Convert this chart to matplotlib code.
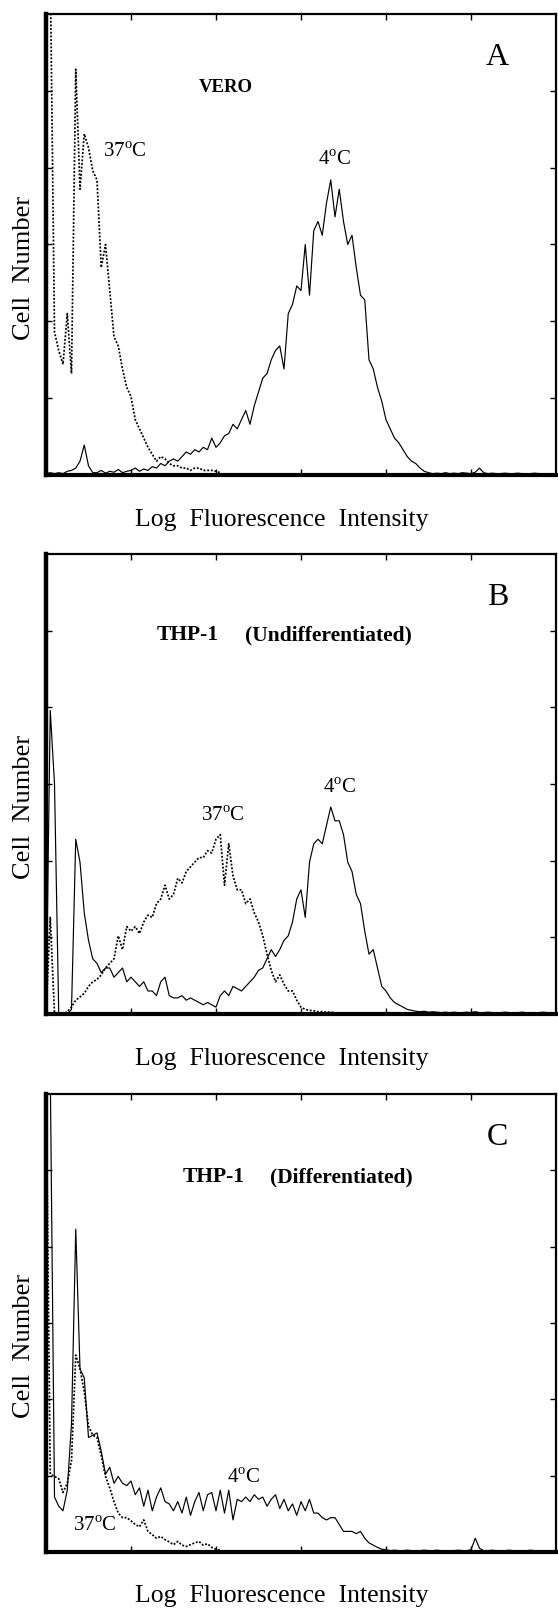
import matplotlib
matplotlib.use("Agg")
import matplotlib.pyplot as plt
import numpy as np

plt.rcParams['font.family'] = ['Liberation Serif', 'DejaVu Serif']
plt.rcParams['mathtext.fontset'] = 'custom'
plt.rcParams['mathtext.rm'] = 'Liberation Serif'

# histogram counts, % of axis height, one value per channel (120 channels across)
A_4C = [0.3, 0.5, 0.3, 0.5, 0.3, 0.8, 1.0, 1.5,
        3, 6.5, 2, 0.5,
        0.5, 1.0, 0.4, 0.8, 0.6, 1.2, 0.5, 0.8, 1.0, 1.5, 0.8, 1.3, 1.0, 1.8,
        1.5, 2.5, 2, 3, 3.5, 3, 4, 5, 4.5, 5.5, 5, 6, 5.5, 8, 6, 7,
        8.5, 9, 11, 10, 12, 14, 11, 15, 18, 21, 22, 25, 27, 28, 23, 35,
        37, 41, 40, 50, 39, 53, 55, 52, 59, 64, 56, 62, 55, 50, 52, 45,
        39, 38, 25, 23, 19, 16, 12, 10, 8, 7, 5.5, 4, 3, 2.5, 1.5, 0.8,
        0.5, 0.3, 0.4, 0.3, 0.5, 0.3, 0.4, 0.3, 0.5, 0.4, 0.3, 0.6, 1.5, 0.5, 0.3,
        0.4, 0.3, 0.3, 0.4, 0.3, 0.3, 0.4, 0.3, 0.3, 0.3, 0.4, 0.3, 0.3, 0.3, 0.3]
A_37C = [110, 110, 31, 27, 24, 35, 22, 88, 62, 74, 71, 66, 64, 45, 50, 40,
         30, 28, 23, 19, 17, 12, 10, 8, 6, 4.5, 3, 4, 3.5, 2.5, 2, 2,
         1.5, 1.5, 1, 1.5, 1.5, 1, 1, 1, 0.8, 0.5]

B_4C = [0, 66, 50, 0, 0, 0, 1, 38, 33, 22, 16, 12, 11, 9, 10, 10,
        8, 9, 10, 7, 8, 7, 6, 7, 5, 5, 4, 7, 8, 4, 3.5, 3.5,
        4, 3, 3.5, 3, 2.5, 2, 2.5, 2, 1.5, 4, 5, 4, 6, 5.5, 5, 6,
        7, 8, 9.5, 10, 12, 14, 12.5, 14, 16, 17, 20, 25, 27, 21, 33, 37,
        38, 37, 41, 45, 42, 42, 39, 33, 31, 26, 24, 18, 13, 14, 10, 6,
        5, 3.5, 2.5, 2, 1.5, 1, 0.8, 0.6, 0.5, 0.6, 0.4, 0.5, 0.4, 0.3, 0.4, 0.3,
        0.4, 0.3, 0.3, 0.4, 0.3, 0.5, 0.3, 0.3, 0.4, 0.3, 0.3, 0.3,
        0.4, 0.3, 0.3, 0.3, 0.4, 0.3, 0.3, 0.3, 0.3, 0.4, 0.3, 0.3]
B_37C = [0, 21, 0, 0, 0, 0.5, 1.5, 3, 3.7, 4.5, 6, 7, 7.5, 8.5, 10, 11,
         12, 17, 14, 19, 18, 19, 17.5, 20, 21.5, 21, 24, 25, 28, 25, 26, 29.5,
         28.5, 31, 32, 33, 34, 34, 35.5, 35, 38, 39, 28, 37, 30, 27, 27, 24,
         25, 22, 20, 17, 13, 9.5, 7, 8.5, 6.5, 5, 5, 3, 1.5, 1, 0.8, 0.7,
         0.5, 0.5, 0.4, 0.4, 0.3]

C_4C = [105, 105, 12, 10, 9, 13.5, 28, 70.5, 40, 38, 25, 25.5, 26, 22, 17, 18.5,
        15, 16.5, 15, 14.5, 15.5, 12.5, 14, 10, 13.5, 9, 12, 14, 11, 10.5, 9, 11,
        8.5, 12, 8, 11, 13, 9, 12.5, 13, 9, 13.5, 8.5, 13.5, 7, 11.5, 11, 12,
        11, 12.5, 11.5, 12, 10, 11.5, 12.5, 9.5, 11.5, 9, 10.5, 8, 11, 9, 11.5, 8.5,
        8.5, 7.5, 7, 7.5, 7.5, 6, 4.5, 4.5, 4.5, 4, 4.5, 3, 2, 1.5, 1, 0.6,
        0.5, 0.3, 0.4, 0.3, 0.3, 0.4, 0.3, 0.3, 0.3, 0.4, 0.3, 0.3, 0.4, 0.3, 0.3, 0.3,
        0.3, 0.4, 0.3, 0.3, 0.5, 3, 0.8, 0.3, 0.3, 0.4, 0.3, 0.3,
        0.3, 0.4, 0.3, 0.3, 0.3, 0.3, 0.4, 0.3, 0.3, 0.3, 0.3, 0.3]
C_37C = [105, 17, 16.5, 16, 13, 15, 20, 43, 40, 35, 27.5, 25.5, 25, 21, 16.5, 14,
         11, 8.5, 7.5, 7.5, 6.8, 6, 5.5, 7, 4.5, 3.8, 3, 3.4, 2.7, 2.2, 1.6, 2.3,
         1.5, 1.2, 1.6, 2, 2.3, 1.5, 1.8, 1, 0.6, 0.4]

N_CHANNELS = 120
DEG = '$^{\\mathrm{o}}$'

panels = [
    dict(letter='A', solid=A_4C, dotted=A_37C,
         titles=[('VERO', 0.300, 0.84, 13.5)],
         t37=(0.112, 0.700, 'left'), t4=(0.566, 0.682)),
    dict(letter='B', solid=B_4C, dotted=B_37C,
         titles=[('THP-1', 0.216, 0.823, 15.5), ('(Undifferentiated)', 0.391, 0.823, 15.5)],
         t37=(0.346, 0.430, 'center'), t4=(0.575, 0.491)),
    dict(letter='C', solid=C_4C, dotted=C_37C,
         titles=[('THP-1', 0.268, 0.818, 15.5), ('(Differentiated)', 0.439, 0.818, 15.5)],
         t37=(0.052, 0.057, 'left'), t4=(0.388, 0.162)),
]

fig = plt.figure(figsize=(5.58, 16.09), dpi=100)
left, width = 46 / 558, 510 / 558
tops = [14, 554, 1094]
heights = [461, 460, 458]

for p, top, h in zip(panels, tops, heights):
    ax = fig.add_axes([left, 1 - (top + h) / 1609, width, h / 1609])
    xs = np.arange(len(p['solid']))
    ax.plot(xs, p['solid'], color='black', lw=0.85)
    xd = np.arange(len(p['dotted']))
    ax.plot(xd, p['dotted'], color='black', lw=1.25, linestyle=(0, (1.1, 1.0)))
    ax.set_xlim(0, N_CHANNELS)
    ax.set_ylim(0, 100)
    ax.set_xticks(np.arange(1, 6) * N_CHANNELS / 6)
    ax.set_yticks(np.arange(1, 6) * 100 / 6)
    ax.tick_params(direction='in', length=4, width=1, top=True, right=True,
                   labelbottom=False, labelleft=False)
    ax.spines['left'].set_linewidth(3.2)
    ax.spines['bottom'].set_linewidth(3.0)
    ax.spines['top'].set_linewidth(1.6)
    ax.spines['right'].set_linewidth(1.6)

    ax.text(0.885, 0.905, p['letter'], transform=ax.transAxes, fontsize=23,
            ha='center', va='center')
    for txt, tx, ty, fs in p['titles']:
        ax.text(tx, ty, txt, transform=ax.transAxes, fontsize=fs,
                fontweight='bold', ha='left', va='center')
    x37, y37, ha37 = p['t37']
    ax.text(x37, y37, '37' + DEG + 'C', transform=ax.transAxes, fontsize=15,
            ha=ha37, va='center')
    ax.text(p['t4'][0], p['t4'][1], '4' + DEG + 'C', transform=ax.transAxes,
            fontsize=15, ha='center', va='center')

    ax.text(0.463, -0.097, 'Log  Fluorescence  Intensity', transform=ax.transAxes,
            fontsize=18.5, ha='center', va='center')
    ax.text(-0.043, 0.45, 'Cell  Number', transform=ax.transAxes, fontsize=19,
            rotation=90, ha='center', va='center')

fig.savefig('out.png', dpi=100)
